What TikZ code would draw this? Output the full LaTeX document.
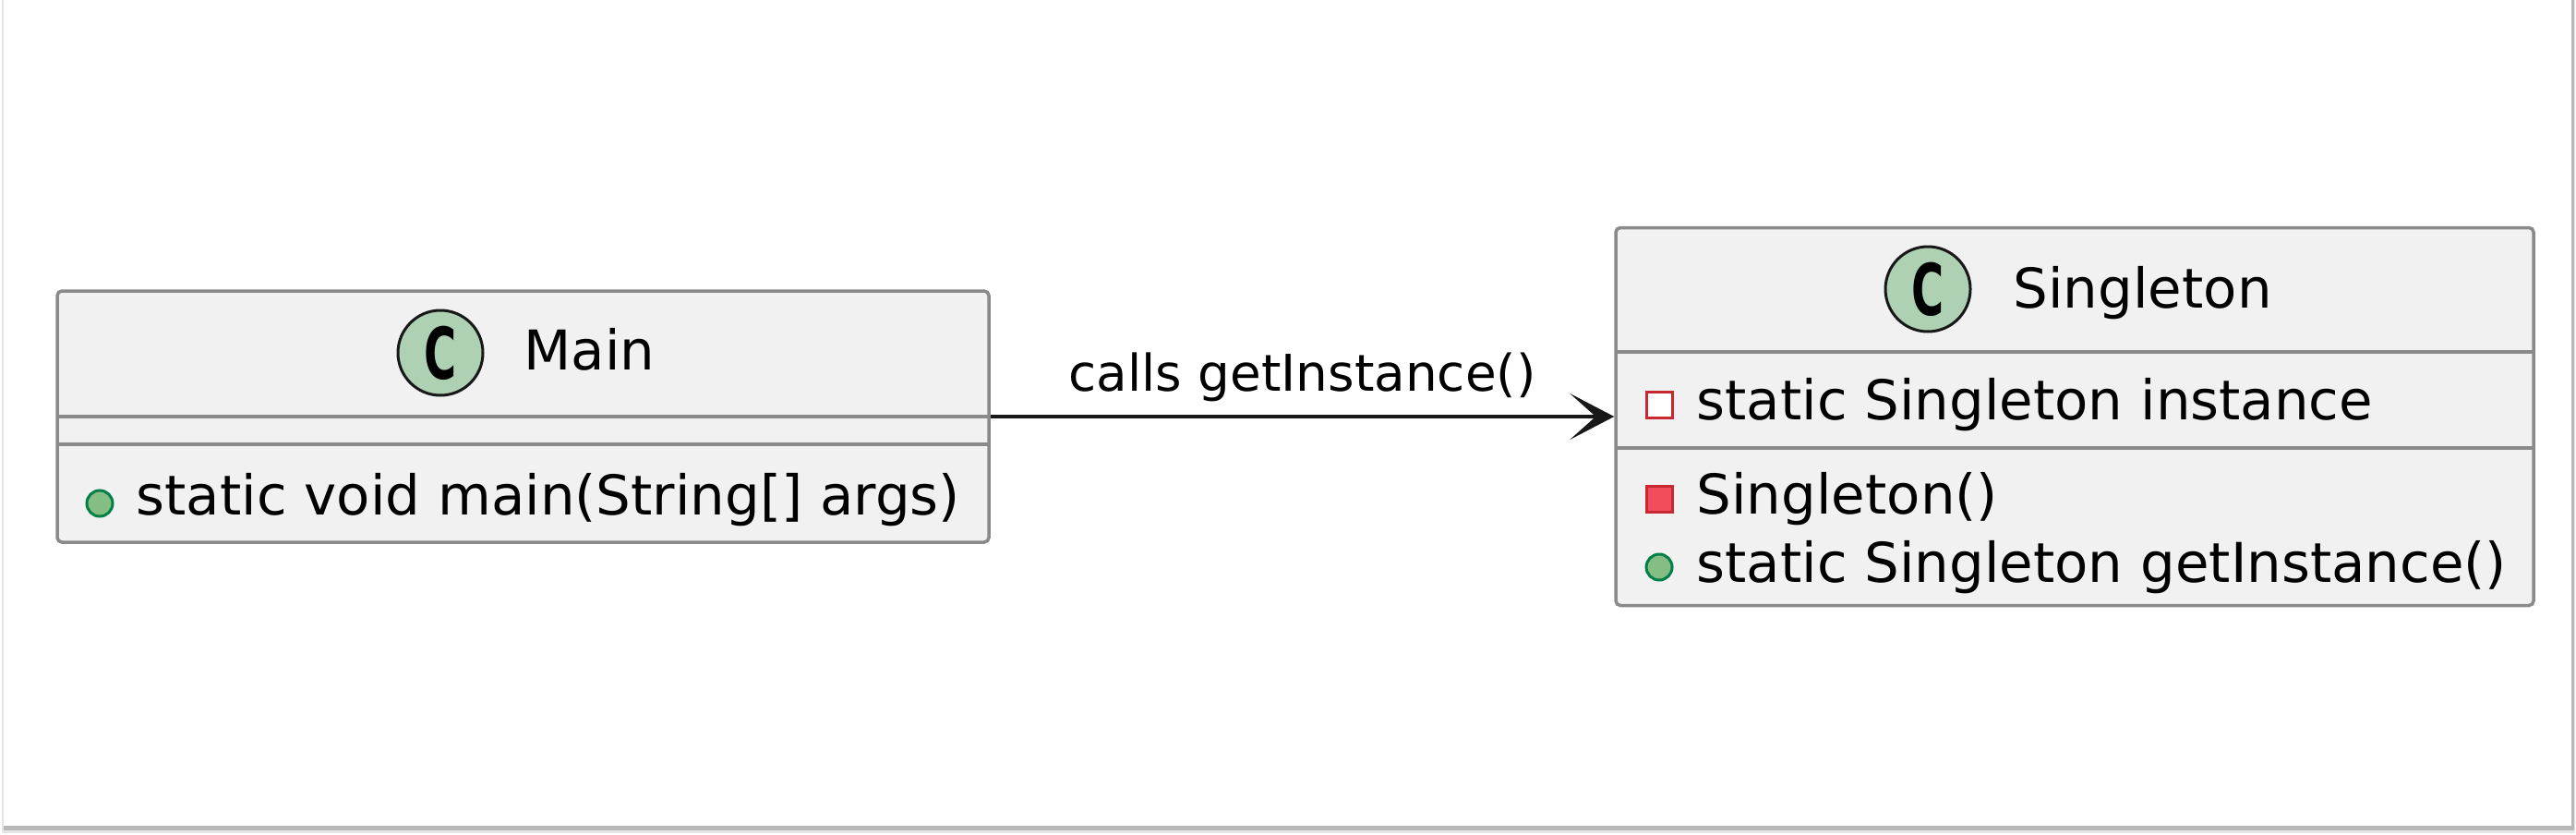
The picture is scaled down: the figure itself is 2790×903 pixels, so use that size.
\documentclass[tikz,border=0pt]{standalone}
\usepackage{fontspec}
\setmainfont{DejaVu Sans}
\usetikzlibrary{arrows.meta}

\definecolor{umlborder}{HTML}{8A8A8A}
\definecolor{umlfill}{HTML}{F1F1F1}
\definecolor{umldark}{HTML}{181818}
\definecolor{classgreen}{HTML}{ADD1B2}
\definecolor{pubfill}{HTML}{84BE84}
\definecolor{publine}{HTML}{038048}
\definecolor{privfill}{HTML}{F24D5C}
\definecolor{privline}{HTML}{C82930}

\tikzset{
  classbox/.style={draw=umlborder, fill=umlfill, line width=0.35mm, rounded corners=0.5mm, inner sep=0pt},
  classmark/.style={circle, draw=umldark, fill=classgreen, line width=0.3mm, minimum size=9.2mm, inner sep=0pt,
    font=\fontsize{22pt}{22pt}\selectfont\bfseries},
  member/.style={anchor=base west, inner sep=0pt, font=\fontsize{16.9pt}{20pt}\selectfont},
  pubicon/.style={circle, draw=publine, fill=pubfill, line width=0.3mm, minimum size=2.8mm, inner sep=0pt},
  privfield/.style={rectangle, draw=privline, fill=white, line width=0.3mm, minimum size=2.8mm, inner sep=0pt},
  privop/.style={rectangle, draw=privline, fill=privfill, line width=0.3mm, minimum size=2.8mm, inner sep=0pt},
  calls/.style={draw=umldark, line width=0.38mm, -{Stealth[length=4.8mm, width=5mm, inset=2.8mm]}},
  lbl/.style={inner sep=0pt, font=\fontsize{15.6pt}{18pt}\selectfont},
}

\begin{document}
\begin{tikzpicture}[x=0.1mm, y=-0.1mm]
    \useasboundingbox (0,0) rectangle (2790,903);

    %% card with shadow
    \fill[black!10] (2,-10) rectangle (2789,902);
    \fill[black!28] (4,-10) rectangle (2788,899);
    \fill[white] (4,-10) rectangle (2785,894);

    %% class Main
    \node[classbox, minimum width=100.9mm, minimum height=27.2mm] (main) at (566.5,451) {};
    \draw[umlborder, line width=0.35mm] (62,451) -- (1071,451);
    \draw[umlborder, line width=0.35mm] (62,481) -- (1071,481);
    \node[classmark] (mainC) at (477,382) {\scalebox{0.62}[1]{C}};
    \node[member] (mainName) at (567,400) {Main};
    \node[pubicon] (mainOpIcon) at (108,545) {};
    \node[member] (mainOp) at (147,557) {static void main(String[] args)};

    %% class Singleton
    \node[classbox, minimum width=99.4mm, minimum height=40.9mm] (single) at (2247,451) {};
    \draw[umlborder, line width=0.35mm] (1750,381) -- (2744,381);
    \draw[umlborder, line width=0.35mm] (1750,485) -- (2744,485);
    \node[classmark] (singleC) at (2088,313) {\scalebox{0.62}[1]{C}};
    \node[member] (singleName) at (2180,333) {Singleton};

    %% field
    \node[privfield] (instIcon) at (1797,438) {};
    \node[member] (inst) at (1837,454) {static Singleton instance};

    %% methods
    \node[privop] (ctorIcon) at (1797,540) {};
    \node[member] (ctor) at (1837,556) {Singleton()};
    \node[pubicon] (getIcon) at (1797,614) {};
    \node[member] (get) at (1837,630) {static Singleton getInstance()};

    %% dependency
    \draw[calls] (main.east) -- (single.west)
      node[lbl, midway, anchor=base, yshift=2.8mm] (callsLbl) {calls getInstance()};
\end{tikzpicture}
\end{document}
